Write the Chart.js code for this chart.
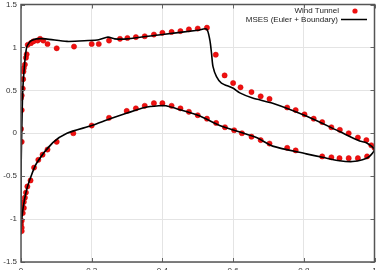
<!DOCTYPE html>
<html>
<head>
<meta charset="utf-8">
<script src="https://cdn.jsdelivr.net/npm/chart.js@4.4.1/dist/chart.umd.min.js"></script>
<style>
    html, body { margin: 0; padding: 0; background: #fff; overflow: hidden; }
    #wrap { width: 379px; height: 275px; }
</style>
</head>
<body>
<div id="wrap"><canvas id="chart_cp"></canvas></div>
<script>
// Wind tunnel measurements (x/c, -Cp)
const tunnel_x = [
    0, 0.002, 0, 0.002, 0.005, 0.006, 0.007, 0.008, 0.011, 0.014, 0.016, 0.019, 0.028, 0.035, 0.047, 0.054,
    0.063, 0.075, 0.101, 0.15, 0.2, 0.22, 0.249, 0.28, 0.301, 0.325, 0.35, 0.376, 0.4, 0.426, 0.451, 0.475,
    0.5, 0.526, 0.551, 0.576, 0.6, 0.621, 0.652, 0.678, 0.703, 0.753, 0.777, 0.802, 0.828, 0.852, 0.878,
    0.902, 0.927, 0.953, 0.977, 0.991, 1.0,
    0.979, 0.953, 0.927, 0.901, 0.878, 0.852, 0.777, 0.753, 0.703, 0.678, 0.652, 0.625, 0.603, 0.577,
    0.552, 0.526, 0.5, 0.475, 0.451, 0.426, 0.4, 0.376, 0.35, 0.325, 0.299, 0.249, 0.2, 0.148, 0.101,
    0.075, 0.061, 0.049, 0.037, 0.027, 0.018, 0.014, 0.011, 0.008, 0.002, 0.008, 0.005, 0.002, 0, 0.002,
    0.002, 0.002
]
const tunnel_y = [
    0.05, 0.27, 0.41, 0.44, 0.52, 0.63, 0.72, 0.76, 0.8, 0.88, 0.92, 1.03, 1.05, 1.07, 1.08, 1.1,
    1.08, 1.04, 0.99, 1.01, 1.04, 1.04, 1.08, 1.1, 1.11, 1.12, 1.13, 1.15, 1.17, 1.18, 1.19, 1.21,
    1.22, 1.23, 0.915, 0.674, 0.585, 0.535, 0.48, 0.43, 0.4, 0.3, 0.27, 0.22, 0.17, 0.13, 0.07,
    0.04, 0.0, -0.05, -0.08, -0.14, -0.17,
    -0.27, -0.29, -0.29, -0.29, -0.28, -0.27, -0.2, -0.17, -0.12, -0.08, -0.04, 0.0, 0.035, 0.07,
    0.12, 0.17, 0.21, 0.25, 0.29, 0.32, 0.35, 0.35, 0.32, 0.29, 0.26, 0.18, 0.09, 0.0, -0.1,
    -0.19, -0.25, -0.31, -0.4, -0.55, -0.62, -0.69, -0.75, -0.8, -0.84, -0.87, -0.93, -1.02, -1.06, -1.1,
    -1.14, -0.1
]

// MSES (Euler + Boundary) curve, upper surface LE -> TE then lower surface TE -> LE
const mses_x = [
    0, 0, 0.002, 0.005, 0.01, 0.016, 0.024, 0.03, 0.044, 0.07, 0.13, 0.19, 0.22, 0.246, 0.265, 0.3,
    0.4, 0.5, 0.525, 0.534, 0.539, 0.543, 0.553, 0.567, 0.599, 0.619, 0.655, 0.712, 0.807, 0.901,
    0.958, 0.977, 1.0,
    0.986, 0.966, 0.938, 0.901, 0.853, 0.807, 0.712, 0.666, 0.619, 0.562, 0.506, 0.449, 0.41, 0.39,
    0.35, 0.3, 0.25, 0.2, 0.13, 0.09, 0.044, 0.025, 0.014, 0.006, 0.002, 0
]
const mses_y = [
    -1.18, -0.5, 0.0, 0.5, 0.8, 1.0, 1.06, 1.08, 1.1, 1.1, 1.07, 1.08, 1.09, 1.12, 1.1, 1.1,
    1.15, 1.2, 1.213, 1.09, 0.93, 0.78, 0.66, 0.585, 0.527, 0.47, 0.41, 0.35, 0.2, 0.02,
    -0.09, -0.11, -0.19,
    -0.27, -0.31, -0.33, -0.32, -0.28, -0.24, -0.15, -0.05, 0.015, 0.09, 0.2, 0.275, 0.32, 0.32,
    0.3, 0.235, 0.165, 0.09, 0.0, -0.11, -0.35, -0.54, -0.69, -0.87, -1.02, -1.18
]

const toPoints = (xs, ys) => xs.map((x, i) => ({ x: x, y: ys[i] }))

const xTicks = [0, 0.2, 0.4, 0.6, 0.8, 1]
const yTicks = [-1.5, -1, -0.5, 0, 0.5, 1, 1.5]

const FONT = 'Liberation Sans, Arial, sans-serif'

// frame, inward ticks and legend like gnuplot
const framePlugin = {
    id: 'frame',
    afterDraw(chart) {
        const { ctx, chartArea: a, scales } = chart
        ctx.save()
        ctx.strokeStyle = '#666'
        ctx.lineWidth = 1
        xTicks.forEach(v => {
            const px = Math.round(scales.x.getPixelForValue(v)) + 0.5
            ctx.beginPath()
            ctx.moveTo(px, a.bottom); ctx.lineTo(px, a.bottom - 4)
            ctx.moveTo(px, a.top); ctx.lineTo(px, a.top + 4)
            ctx.stroke()
        })
        yTicks.forEach(v => {
            const py = Math.round(scales.y.getPixelForValue(v)) + 0.5
            ctx.beginPath()
            ctx.moveTo(a.left, py); ctx.lineTo(a.left + 4, py)
            ctx.moveTo(a.right, py); ctx.lineTo(a.right - 4, py)
            ctx.stroke()
        })
        ctx.strokeStyle = '#555'
        ctx.lineWidth = 1.5
        ctx.strokeRect(a.left, a.top, a.right - a.left, a.bottom - a.top)

        // legend
        ctx.font = '8px ' + FONT
        ctx.fillStyle = '#222'
        ctx.textAlign = 'right'
        ctx.textBaseline = 'middle'
        const ds = chart.data.datasets
        ctx.fillText(ds[0].label, 339, 11)
        ctx.beginPath()
        ctx.fillStyle = ds[0].backgroundColor
        ctx.arc(355, 11, 2.6, 0, Math.PI * 2)
        ctx.fill()
        ctx.fillStyle = '#222'
        ctx.fillText(ds[1].label, 338, 19.5)
        ctx.beginPath()
        ctx.strokeStyle = '#000'
        ctx.lineWidth = 1.5
        ctx.moveTo(341, 19.5); ctx.lineTo(367, 19.5)
        ctx.stroke()
        ctx.restore()
    }
}

new Chart(document.getElementById('chart_cp'), {
    type: 'scatter',
    data: {
        datasets: [
            {
                label: 'Wind Tunnel',
                data: toPoints(tunnel_x, tunnel_y),
                backgroundColor: '#f01010',
                borderColor: '#d00000',
                borderWidth: 0.5,
                pointRadius: 2.6,
                showLine: false,
                order: 2
            },
            {
                label: 'MSES (Euler + Boundary)',
                data: toPoints(mses_x, mses_y),
                borderColor: '#000',
                borderWidth: 1.6,
                pointRadius: 0,
                showLine: true,
                tension: 0.25,
                order: 1
            }
        ]
    },
    plugins: [framePlugin],
    options: {
        animation: false,
        responsive: true,
        maintainAspectRatio: false,
        layout: { padding: { top: 3, right: 4, left: 0, bottom: 0 } },
        plugins: {
            legend: { display: false },
            tooltip: { enabled: false }
        },
        scales: {
            x: {
                type: 'linear',
                min: 0,
                max: 1,
                afterBuildTicks: s => { s.ticks = xTicks.map(v => ({ value: v })) },
                afterFit: s => {
                    s.height = 13
                    s.paddingLeft = 0
                    s.paddingRight = 0
                },
                grid: { color: '#e4e4e4', lineWidth: 1, drawTicks: false },
                border: { display: false },
                ticks: {
                    padding: 4,
                    color: '#333',
                    font: { family: FONT, size: 8 },
                    callback: v => String(v)
                }
            },
            y: {
                type: 'linear',
                min: -1.5,
                max: 1.5,
                afterBuildTicks: s => { s.ticks = yTicks.map(v => ({ value: v })) },
                afterFit: s => {
                    s.width = 21
                    s.paddingTop = 0
                    s.paddingBottom = 0
                },
                grid: { color: '#e4e4e4', lineWidth: 1, drawTicks: false },
                border: { display: false },
                ticks: {
                    padding: 4,
                    color: '#333',
                    font: { family: FONT, size: 8 },
                    callback: v => String(v)
                }
            }
        }
    }
});
</script>
</body>
</html>
